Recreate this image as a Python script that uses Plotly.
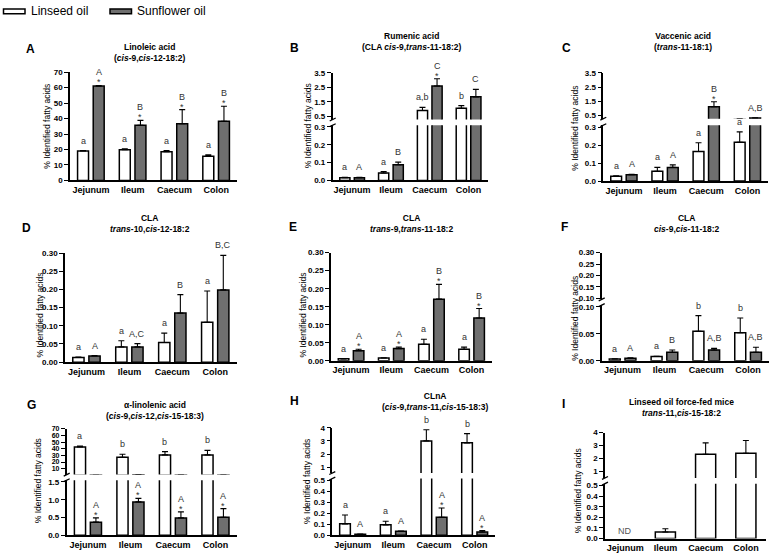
import plotly.graph_objects as go

# ---------------- data ----------------
categories = ["Jejunum", "Ileum", "Caecum", "Colon"]
series_names = ["Linseed oil", "Sunflower oil"]

# A  Linoleic acid
A_lin = [19.0, 19.9, 18.5, 15.7]
A_lin_err = [0.3, 0.6, 0.8, 0.8]
A_sun = [61.0, 35.6, 36.7, 38.2]
A_sun_err = [0.4, 3.2, 9.1, 9.8]
A_lin_lbl = ["a", "a", "a", "a"]
A_sun_lbl = ["A", "B", "B", "B"]
A_star = [1, 1, 1, 1]

# B  Rumenic acid
B_lin = [0.015, 0.042, 0.89, 1.05]
B_lin_err = [0.002, 0.008, 0.22, 0.18]
B_sun = [0.015, 0.088, 2.59, 1.84]
B_sun_err = [0.002, 0.015, 0.50, 0.52]
B_lin_lbl = ["a", "a", "a,b", "b"]
B_sun_lbl = ["A", "B", "C", "C"]
B_star = [0, 0, 1, 0]

# C  Vaccenic acid
C_lin = [0.027, 0.055, 0.164, 0.215]
C_lin_err = [0.002, 0.021, 0.049, 0.058]
C_sun = [0.035, 0.076, 1.12, 0.32]
C_sun_err = [0.003, 0.014, 0.35, 0.01]
C_lin_lbl = ["a", "a", "a", "a"]
C_sun_lbl = ["A", "A", "B", "A,B"]
C_star = [0, 0, 1, 0]

# D  CLA trans-10,cis-12
D_lin = [0.0127, 0.042, 0.054, 0.110]
D_lin_err = [0.001, 0.017, 0.026, 0.086]
D_sun = [0.017, 0.042, 0.135, 0.199]
D_sun_err = [0.001, 0.009, 0.051, 0.095]
D_lin_lbl = ["a", "a", "a", "a"]
D_sun_lbl = ["A", "A,C", "B", "B,C"]
D_star = [0, 0, 0, 0]

# E  CLA trans-9,trans-11
E_lin = [0.0055, 0.008, 0.046, 0.032]
E_lin_err = [0.0005, 0.0005, 0.014, 0.006]
E_sun = [0.028, 0.034, 0.171, 0.119]
E_sun_err = [0.004, 0.004, 0.041, 0.026]
E_lin_lbl = ["a", "a", "a", "a"]
E_sun_lbl = ["A", "A", "B", "B"]
E_star = [1, 1, 1, 1]

# F  CLA cis-9,cis-11
F_lin = [0.0036, 0.008, 0.0545, 0.052]
F_lin_err = [0.0003, 0.0005, 0.029, 0.027]
F_sun = [0.005, 0.016, 0.020, 0.016]
F_sun_err = [0.0005, 0.004, 0.003, 0.009]
F_lin_lbl = ["a", "a", "b", "b"]
F_sun_lbl = ["A", "B", "A,B", "A,B"]
F_star = [0, 0, 0, 0]

# G  alpha-linolenic acid
G_lin = [42.5, 27.2, 30.7, 30.7]
G_lin_err = [1.5, 4.4, 4.9, 6.8]
G_sun = [0.37, 0.94, 0.49, 0.51]
G_sun_err = [0.12, 0.10, 0.17, 0.24]
G_lin_lbl = ["a", "b", "b", "b"]
G_sun_lbl = ["A", "A", "A", "A"]
G_star = [1, 1, 1, 1]

# H  CLnA
H_lin = [0.104, 0.095, 3.0, 2.85]
H_lin_err = [0.08, 0.033, 0.85, 0.70]
H_sun = [0.009, 0.036, 0.164, 0.030]
H_sun_err = [0.002, 0.002, 0.083, 0.012]
H_lin_lbl = ["a", "a", "b", "b"]
H_sun_lbl = ["A", "A", "A", "A"]
H_star = [0, 0, 1, 1]

# I  trans-11,cis-15-18:2 (linseed only)
I_lin = [None, 0.062, 2.32, 2.40]
I_lin_err = [None, 0.031, 0.89, 0.99]

# ---------------- style / layout helpers ----------------
W, H = 774, 559
FONT = "Liberation Sans, Arial, sans-serif"
LIN_FILL = "white"
SUN_FILL = "#6f6f6f"
LBL_COL = "#333333"
BARGAP = 0.25
BARGROUPGAP = 0.3
OFF = (1 - BARGAP) / 4

fig = go.Figure()
layout = {}
annotations = []
shapes = []
count = [0]


def xp(p):
    return p / W


def yp(p):
    return 1 - p / H


def r(n):
    return "" if n == 1 else str(n)


def err_dict(e):
    return dict(type="data", symmetric=False,
                array=[0 if v is None else v for v in e],
                arrayminus=[0] * len(e), color="black", thickness=1.1, width=3)


def add_panel(x0, x1, segs, lin, lin_err, sun=None, sun_err=None,
              lin_lbl=None, sun_lbl=None, star=None, single_width=None):
    """segs: bottom first -> (top_px, bottom_px, yrange, tickvals, tickformat, ticksize)"""
    ids = []
    for k, (top, bot, yr, tv, tf, ts) in enumerate(segs):
        count[0] += 1
        n = count[0]
        ids.append(n)
        bottom = (k == 0)
        layout["xaxis" + r(n)] = dict(
            domain=[xp(x0), xp(x1)], anchor="y" + r(n), type="category",
            categoryorder="array", categoryarray=categories,
            range=[-0.5, 3.5], visible=bottom, showline=bottom,
            linecolor="black", linewidth=1.6, ticks="", showgrid=False,
            zeroline=False, fixedrange=True,
            tickfont=dict(family=FONT, size=9, color="black", weight="bold"))
        layout["yaxis" + r(n)] = dict(
            domain=[yp(bot), yp(top)], anchor="x" + r(n), range=yr,
            tickvals=tv, tickformat=tf, ticks="outside", ticklen=4,
            tickwidth=1.4, tickcolor="black", showline=True,
            linecolor="black", linewidth=1.6, showgrid=False,
            zeroline=False, fixedrange=True,
            tickfont=dict(family=FONT, size=ts, color="black", weight="bold"))
        fig.add_trace(go.Bar(
            x=categories, y=lin, xaxis="x" + r(n), yaxis="y" + r(n),
            name=series_names[0], width=single_width,
            marker=dict(color=LIN_FILL, line=dict(color="black", width=1.5)),
            error_y=err_dict(lin_err), showlegend=False, hoverinfo="skip"))
        if sun is not None:
            fig.add_trace(go.Bar(
                x=categories, y=sun, xaxis="x" + r(n), yaxis="y" + r(n),
                name=series_names[1],
                marker=dict(color=SUN_FILL, line=dict(color="black", width=1.5)),
                error_y=err_dict(sun_err), showlegend=False, hoverinfo="skip"))
    # break marks
    for k in range(len(segs) - 1):
        for ypix in (segs[k][0], segs[k + 1][1]):
            shapes.append(dict(type="line", xref="paper", yref="paper",
                               x0=xp(x0 - 3), x1=xp(x0 + 3),
                               y0=yp(ypix + 1.5), y1=yp(ypix - 1.5),
                               line=dict(color="black", width=1.3)))

    def seg_for(v):
        for k, s in enumerate(segs):
            if v <= s[2][1]:
                return ids[k]
        return ids[-1]

    def put(i, dx, top, text, is_star, above_star):
        n = seg_for(top)
        if is_star:
            ys = -4
        elif above_star:
            ys = 6
        else:
            ys = 3
        annotations.append(dict(
            x=i + dx, y=top, xref="x" + r(n), yref="y" + r(n),
            text=text, showarrow=False, yanchor="bottom", yshift=ys,
            font=dict(family=FONT, size=9, color=LBL_COL)))

    if lin_lbl:
        for i, lb in enumerate(lin_lbl):
            put(i, -OFF, lin[i] + lin_err[i], lb, False, False)
    if sun_lbl:
        for i, lb in enumerate(sun_lbl):
            top = sun[i] + sun_err[i]
            if star[i]:
                put(i, OFF, top, "*", True, False)
                put(i, OFF, top, lb, False, True)
            else:
                put(i, OFF, top, lb, False, False)
    return ids


f1 = ".1f"
f2 = ".2f"
add_panel(70, 237, [(69.3, 179.3, [0, 70], [0, 10, 20, 30, 40, 50, 60, 70], "d", 8)],
          A_lin, A_lin_err, A_sun, A_sun_err, A_lin_lbl, A_sun_lbl, A_star)
add_panel(332.7, 488, [(123.2, 179.3, [0, 0.31], [0, 0.1, 0.2, 0.3], f1, 8),
                       (70, 117.4, [0.27, 3.5], [0.5, 1.5, 2.5, 3.5], f1, 8)],
          B_lin, B_lin_err, B_sun, B_sun_err, B_lin_lbl, B_sun_lbl, B_star)
add_panel(603.3, 768, [(123.2, 180, [0, 0.31], [0, 0.1, 0.2, 0.3], f1, 8),
                       (70, 116.6, [0.27, 3.5], [0.5, 1.5, 2.5, 3.5], f1, 8)],
          C_lin, C_lin_err, C_sun, C_sun_err, C_lin_lbl, C_sun_lbl, C_star)
add_panel(65, 236.7, [(253.3, 364, [0, 0.30], [0, 0.05, 0.1, 0.15, 0.2, 0.25, 0.3], f2, 8)],
          D_lin, D_lin_err, D_sun, D_sun_err, D_lin_lbl, D_sun_lbl, D_star)
add_panel(331, 491.7, [(252.7, 362.7, [0, 0.30], [0, 0.05, 0.1, 0.15, 0.2, 0.25, 0.3], f2, 8)],
          E_lin, E_lin_err, E_sun, E_sun_err, E_lin_lbl, E_sun_lbl, E_star)
add_panel(601.7, 769, [(306, 362.7, [0, 0.103], [0, 0.05, 0.10], f2, 8),
                       (252.7, 300.2, [0.095, 0.30], [0.10, 0.15, 0.20, 0.25, 0.30], f2, 8)],
          F_lin, F_lin_err, F_sun, F_sun_err, F_lin_lbl, F_sun_lbl, F_star)
add_panel(66.7, 236.7, [(484, 540, [0, 1.55], [0, 0.5, 1.0, 1.5], f1, 8),
                        (431.7, 478.3, [1.1, 70], [10, 20, 30, 40, 50, 60, 70], "d", 7)],
          G_lin, G_lin_err, G_sun, G_sun_err, G_lin_lbl, G_sun_lbl, G_star)
add_panel(332.3, 495, [(482.3, 540, [0, 0.515], [0, 0.1, 0.2, 0.3, 0.4, 0.5], f1, 8),
                       (430.7, 476.7, [0.55, 4], [1, 2, 3, 4], "d", 8)],
          H_lin, H_lin_err, H_sun, H_sun_err, H_lin_lbl, H_sun_lbl, H_star)
ids_I = add_panel(605, 766, [(487.5, 543.3, [0, 0.517], [0, 0.1, 0.2, 0.3, 0.4, 0.5], f1, 8),
                             (435.7, 481.7, [0.49, 4], [1, 2, 3, 4], "d", 8)],
                  I_lin, I_lin_err, single_width=0.5)
annotations.append(dict(x=0, y=0, xref="x" + r(ids_I[0]), yref="y" + r(ids_I[0]),
                        text="ND", showarrow=False, yanchor="bottom", yshift=1,
                        font=dict(family=FONT, size=9, color="#555555")))

# ---------------- titles, panel letters, y titles ----------------
panel_titles = [
    ("A", 31, 46, 150, 49, "<b>Linoleic acid</b><br><b>(<i>cis</i>-9,<i>cis</i>-12-18:2)</b>"),
    ("B", 294, 45, 411.7, 38, "<b>Rumenic acid</b><br><b>(CLA <i>cis</i>-9,<i>trans</i>-11-18:2)</b>"),
    ("C", 566.7, 45, 683, 38.5, "<b>Vaccenic acid</b><br><b>(<i>trans</i>-11-18:1)</b>"),
    ("D", 26, 228, 150, 223, "<b>CLA</b><br><b><i>trans</i>-10,<i>cis</i>-12-18:2</b>"),
    ("E", 293, 227, 411.7, 223, "<b>CLA</b><br><b><i>trans</i>-9,<i>trans</i>-11-18:2</b>"),
    ("F", 564, 227, 686.7, 223, "<b>CLA</b><br><b><i>cis</i>-9,<i>cis</i>-11-18:2</b>"),
    ("G", 31.7, 407.7, 155, 413, "<b>\u03b1-linolenic acid</b><br><b>(<i>cis</i>-9,<i>cis</i>-12,<i>cis</i>-15-18:3)</b>"),
    ("H", 294, 404, 435, 404.5, "<b>CLnA</b><br><b>(<i>cis</i>-9,<i>trans</i>-11,<i>cis</i>-15-18:3)</b>"),
    ("I", 563, 406.7, 681.7, 410, "<b>Linseed oil force-fed mice</b><br><b><i>trans</i>-11,<i>cis</i>-15-18:2</b>"),
]
for letter, lx, ly, tx, ty, txt in panel_titles:
    annotations.append(dict(x=xp(lx), y=yp(ly), xref="paper", yref="paper",
                            text="<b>%s</b>" % letter, showarrow=False,
                            xanchor="center", yanchor="middle",
                            font=dict(family=FONT, size=12, color="black")))
    annotations.append(dict(x=xp(tx), y=yp(ty), xref="paper", yref="paper",
                            text=txt, showarrow=False, xanchor="center",
                            yanchor="middle",
                            font=dict(family=FONT, size=8.5, color="black")))

ytitle_pos = [(46.7, 124), (308.3, 124), (575, 126.7), (40, 316.7), (303, 316.7),
              (575, 320), (38, 485), (306.7, 485), (578.3, 495)]
for x, y in ytitle_pos:
    annotations.append(dict(x=xp(x), y=yp(y), xref="paper", yref="paper",
                            text="% Identified fatty acids", showarrow=False,
                            textangle=-90, xanchor="center", yanchor="middle",
                            font=dict(family=FONT, size=8.5, color="black")))

# ---------------- legend (drawn) ----------------
shapes.append(dict(type="rect", xref="paper", yref="paper",
                   x0=xp(3.5), x1=xp(25), y0=yp(10), y1=yp(5),
                   fillcolor=LIN_FILL, line=dict(color="black", width=1.5)))
shapes.append(dict(type="rect", xref="paper", yref="paper",
                   x0=xp(110), x1=xp(131.5), y0=yp(10), y1=yp(5),
                   fillcolor=SUN_FILL, line=dict(color="black", width=1.5)))
annotations.append(dict(x=xp(28.5), y=yp(7.5), xref="paper", yref="paper",
                        text=series_names[0], showarrow=False, xanchor="left",
                        yanchor="middle", font=dict(family=FONT, size=12, color="black")))
annotations.append(dict(x=xp(135), y=yp(7.5), xref="paper", yref="paper",
                        text=series_names[1], showarrow=False, xanchor="left",
                        yanchor="middle", font=dict(family=FONT, size=12, color="black")))

fig.update_layout(
    width=W, height=H, margin=dict(l=0, r=0, t=0, b=0, pad=0),
    paper_bgcolor="white", plot_bgcolor="white",
    barmode="group", bargap=BARGAP, bargroupgap=BARGROUPGAP,
    showlegend=False, font=dict(family=FONT, color="black"),
    annotations=annotations, shapes=shapes, **layout)

fig.write_html("out.html", config={"displayModeBar": False},
               post_script="document.body.style.margin='0';document.body.style.overflow='hidden';")
